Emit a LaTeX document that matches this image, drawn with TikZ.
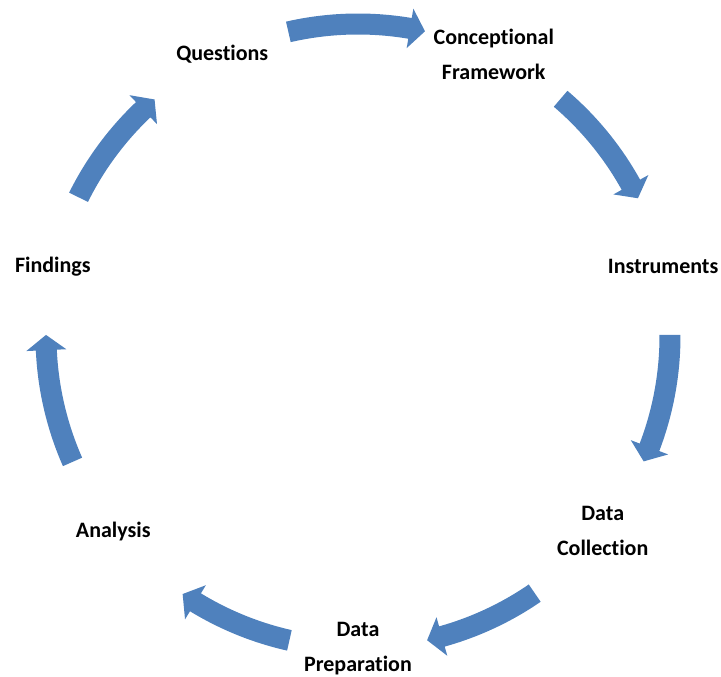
\documentclass[tikz,border=0pt]{standalone}
\usepackage{fontspec}
\setmainfont{Carlito}[Ligatures=NoCommon]
\usepackage{tikz}
\definecolor{cycleblue}{HTML}{4F81BD}

\begin{document}
\begin{tikzpicture}[x=1pt,y=1pt,
    stagelabel/.style={font=\bfseries\fontsize{22}{35}\selectfont, align=center, inner sep=0pt}]
    \useasboundingbox (-358,-341) rectangle (363,336);

    % Stage labels around the circle
    \foreach \i/\a/\txt in {1/115.71/Questions, 2/64.29/{Conceptional\\Framework}, 3/12.86/Instruments, 4/-38.57/{Data\\Collection}, 5/-90/{Data\\Preparation}, 6/-141.43/Analysis, 7/-192.86/Findings} {
      \node[stagelabel] (s\i) at (\a:313pt) {\txt};
    }

    % Curved block arrows between the stages (tail angle / tip angle)
    \foreach \s/\e in {102.9/77.6, 49.5/26.2, 0.2/-23.7, -55.5/-77.2, -102.7/-124.2, -156.2/-180.2, 153.6/130.7} {
      \fill[cycleblue] (\s:322.5pt) arc[start angle=\s, end angle={\e+2.8}, radius=322.5pt]
        -- ({\e+2.8}:332pt) -- (\e:312pt) -- ({\e+2.8}:292pt) -- ({\e+2.8}:301.5pt)
        arc[start angle={\e+2.8}, end angle=\s, radius=301.5pt] -- cycle;
    }
\end{tikzpicture}
\end{document}
